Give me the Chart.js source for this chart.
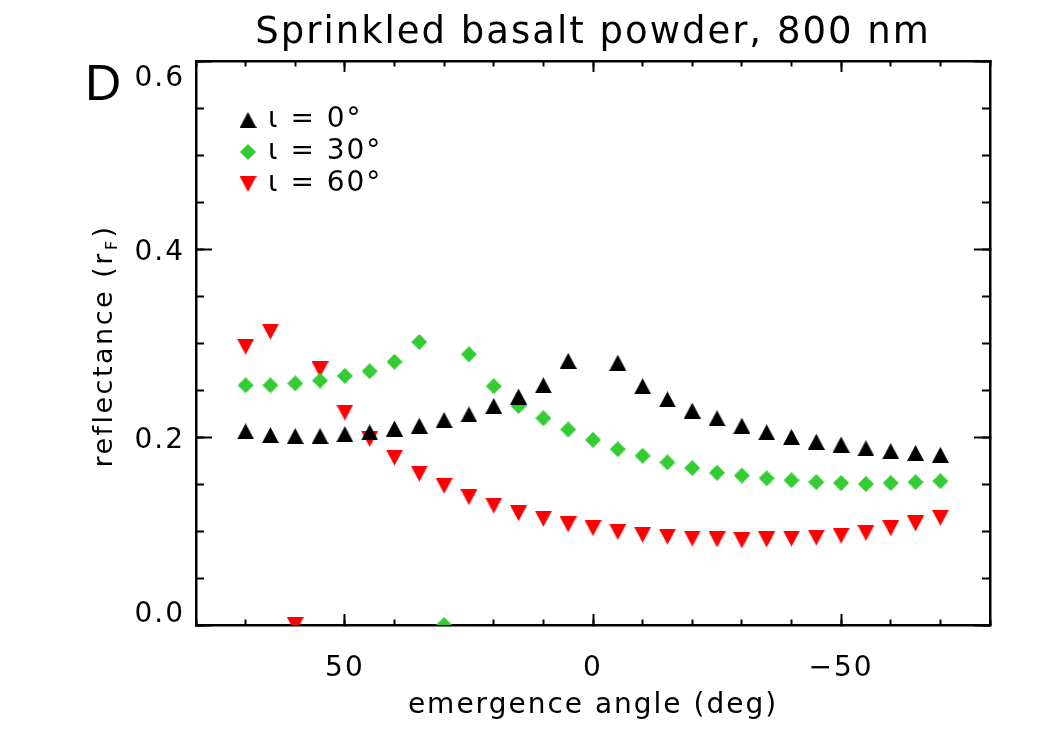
<!DOCTYPE html>
<html><head><meta charset="utf-8">
<script src="https://cdn.jsdelivr.net/npm/chart.js@4/dist/chart.umd.min.js"></script>
<style>html,body{margin:0;padding:0;background:#fff;}#wrap{width:1050px;height:750px;position:relative;}</style>
</head><body><div id="wrap"><canvas id="c" width="1050" height="750"></canvas></div>
<script>
// ---- data ----
const angles = [70,65,60,55,50,45,40,35,30,25,20,15,10,5,0,-5,-10,-15,-20,-25,-30,-35,-40,-45,-50,-55,-60,-65,-70];
const refl_i0 = [0.206,0.202,0.201,0.201,0.203,0.205,0.209,0.212,0.218,0.224,0.233,0.243,0.255,0.281,null,0.279,0.254,0.240,0.228,0.220,0.212,0.205,0.200,0.195,0.192,0.188,0.185,0.183,0.181];
const refl_i30 = [0.255,0.255,0.257,0.260,0.265,0.270,0.280,0.301,0.000,0.288,0.254,0.233,0.220,0.208,0.197,0.187,0.180,0.173,0.167,0.162,0.159,0.156,0.154,0.152,0.151,0.150,0.151,0.152,0.153];
const refl_i60 = [0.296,0.312,0.000,0.272,0.226,0.198,0.178,0.161,0.148,0.136,0.127,0.119,0.113,0.107,0.103,0.099,0.096,0.094,0.092,0.091,0.090,0.091,0.092,0.093,0.095,0.098,0.103,0.108,0.114];
const seriesLabels = ['\u03B9 = 0\u00B0', '\u03B9 = 30\u00B0', '\u03B9 = 60\u00B0'];
const chartTitle = 'Sprinkled basalt powder, 800 nm';
const xTitle = 'emergence angle (deg)';
const yTitleMain = 'reflectance (r';
const yTitleSub = 'F';
const yTitleEnd = ')';
const panelLabel = 'D';

// ---- styles ----
const FONT = '"DejaVu Sans", sans-serif';
const BLACK = '#000000', GREEN = '#33cc33', RED = '#ff0000';

function makeMarker(kind, color, w, h) {
  const c = document.createElement('canvas'); c.width = w; c.height = h;
  const g = c.getContext('2d'); g.fillStyle = color; g.beginPath();
  if (kind === 'up') { g.moveTo(w/2, 0); g.lineTo(w, h); g.lineTo(0, h); }
  else if (kind === 'down') { g.moveTo(0, 0); g.lineTo(w, 0); g.lineTo(w/2, h); }
  else { g.moveTo(w/2, 0); g.lineTo(w, h/2); g.lineTo(w/2, h); g.lineTo(0, h/2); }
  g.closePath(); g.fill(); return c;
}
const mkUp = makeMarker('up', BLACK, 17, 16);
const mkDia = makeMarker('dia', GREEN, 16, 16);
const mkDown = makeMarker('down', RED, 17, 16);

const toXY = arr => angles.map((a, i) => ({x: a, y: arr[i]}));

const spacing = { id: 'spacing', beforeDraw(chart) { chart.ctx.letterSpacing = '2px'; } };
const legendPos = { id: 'legendPos', afterLayout(chart) {
  const lg = chart.legend; if (!lg) return;
  const ca = chart.chartArea; const w = lg.width, h = lg.height;
  lg.left = ca.left + 42; lg.top = ca.top + 41; lg.right = lg.left + w; lg.bottom = lg.top + h;
}};
const annot = { id: 'annot', afterDraw(chart) {
  const ctx = chart.ctx; ctx.save();
  ctx.fillStyle = '#000'; ctx.textAlign = 'left'; ctx.textBaseline = 'alphabetic';
  ctx.letterSpacing = '0px';
  ctx.font = '50px "Liberation Sans", Arial, sans-serif';
  ctx.fillText(panelLabel, 85, 100);
  ctx.translate(112, 347); ctx.rotate(-Math.PI/2);
  ctx.letterSpacing = '2.5px';
  const f1 = '27px ' + FONT, f2 = '16px ' + FONT;
  ctx.font = f1; const w1 = ctx.measureText(yTitleMain).width; const w3 = ctx.measureText(yTitleEnd).width;
  ctx.font = f2; const w2 = ctx.measureText(yTitleSub).width;
  let x = -(w1 + w2 + w3) / 2;
  ctx.font = f1; ctx.fillText(yTitleMain, x, 0); x += w1;
  ctx.font = f2; ctx.fillText(yTitleSub, x + 1, 5); x += w2 + 2;
  ctx.font = f1; ctx.fillText(yTitleEnd, x, 0);
  ctx.restore();
}};

function minorAxis(pos, isX, step, len) {
  return {
    type: 'linear', position: pos, reverse: isX, min: isX ? -80 : 0, max: isX ? 80 : 0.6, weight: 0,
    ticks: { stepSize: step, display: false },
    grid: { drawOnChartArea: false, drawTicks: true, tickLength: len, tickWidth: 2, tickColor: BLACK },
    border: { display: false },
    afterFit(s) { if (isX) s.height = 0; else s.width = 0; }
  };
}
function plainMajor(pos, isX, step, len) {
  return {
    type: 'linear', position: pos, reverse: isX, min: isX ? -80 : 0, max: isX ? 80 : 0.6, weight: 1,
    ticks: { stepSize: step, display: false, includeBounds: false },
    grid: { drawOnChartArea: false, drawTicks: true, tickLength: len, tickWidth: 2, tickColor: BLACK },
    border: { display: true, color: BLACK, width: 2.5 },
    afterFit(s) { if (isX) s.height = 0; else s.width = 0; }
  };
}

new Chart(document.getElementById('c'), {
  type: 'scatter',
  data: { datasets: [
    { label: seriesLabels[0], data: toXY(refl_i0), pointStyle: mkUp, pointRadius: 9, backgroundColor: BLACK, borderColor: BLACK, showLine: false, clip: 0 },
    { label: seriesLabels[1], data: toXY(refl_i30), pointStyle: mkDia, pointRadius: 9, backgroundColor: GREEN, borderColor: GREEN, showLine: false, clip: 0 },
    { label: seriesLabels[2], data: toXY(refl_i60), pointStyle: mkDown, pointRadius: 9, backgroundColor: RED, borderColor: RED, showLine: false, clip: 0 }
  ]},
  options: {
    responsive: false, animation: false, events: [],
    layout: { padding: { left: 0, right: 60, top: 0, bottom: 0 } },
    plugins: {
      tooltip: { enabled: false },
      title: { display: true, text: chartTitle, fullSize: false, color: BLACK,
        font: { family: FONT, size: 37, weight: 'normal', lineHeight: 1.2 }, padding: { top: 11, bottom: 5.6 } },
      legend: { display: true, position: 'chartArea', align: 'start',
        labels: { usePointStyle: true, boxWidth: 12, padding: 4, color: BLACK, font: { family: FONT, size: 28 } } }
    },
    scales: {
      x: { type: 'linear', position: 'bottom', reverse: true, min: -80, max: 80, weight: 1,
        ticks: { stepSize: 50, includeBounds: false, padding: 38, color: BLACK, maxRotation: 0, autoSkip: false,
          font: { family: FONT, size: 28 },
          callback: v => v < 0 ? '\u2212' + Math.abs(v) : String(v) },
        grid: { drawOnChartArea: false, drawTicks: true, tickLength: -11, tickWidth: 2, tickColor: BLACK },
        border: { display: true, color: BLACK, width: 2.5 },
        title: { display: true, text: xTitle, color: BLACK, font: { family: FONT, size: 28 }, padding: { top: 0, bottom: 27 } },
        afterFit(s) { s.height = 125; } },
      xMinor: minorAxis('bottom', true, 10, -5.5),
      xTop: plainMajor('top', true, 50, -11),
      xTopMinor: minorAxis('top', true, 10, -5.5),
      y: { type: 'linear', position: 'left', min: 0, max: 0.6, weight: 1,
        ticks: { stepSize: 0.2, padding: 27, labelOffset: 4, color: BLACK,
          font: { family: FONT, size: 28, lineHeight: 1.0 },
          callback: v => { const t = v.toFixed(1); if (Math.abs(v - 0.6) < 1e-6) return ['', t]; if (Math.abs(v) < 1e-6) return [t, '']; return t; } },
        grid: { drawOnChartArea: false, drawTicks: true, tickLength: -16, tickWidth: 2, tickColor: BLACK },
        border: { display: true, color: BLACK, width: 2.5 },
        afterFit(s) { s.width = 196; } },
      yMinor: minorAxis('left', false, 0.05, -8),
      yRight: plainMajor('right', false, 0.2, -16),
      yRightMinor: minorAxis('right', false, 0.05, -8)
    }
  },
  plugins: [spacing, legendPos, annot]
});
</script>
</body></html>
